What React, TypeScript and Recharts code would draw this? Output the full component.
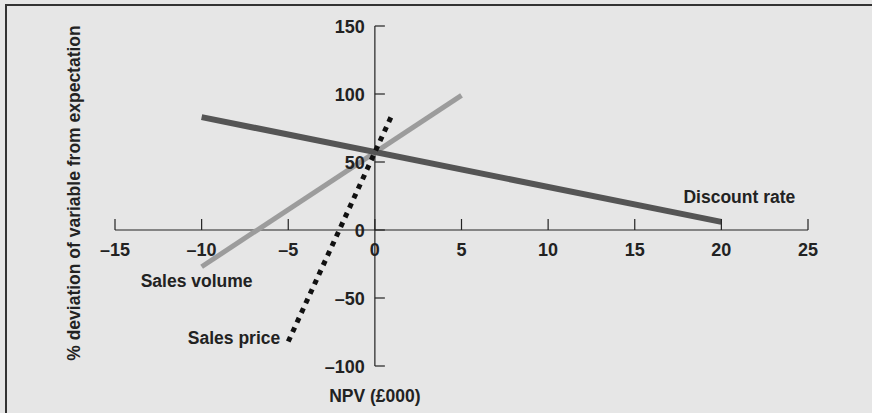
import { LineChart, Line, XAxis, YAxis, ReferenceLine, ReferenceDot } from "recharts";

const discountRate = [
  { x: -10, y: 83 },
  { x: 20, y: 6 },
];
const salesVolume = [
  { x: -10, y: -27 },
  { x: 5, y: 99 },
];
const salesPrice = [
  { x: -5, y: -82 },
  { x: 1, y: 85 },
];

const xTicks = [-15, -10, -5, 0, 5, 10, 15, 20, 25];
const yTicks = [-100, -50, 0, 50, 100, 150];

const FONT = "'Liberation Sans', Arial, sans-serif";
const INK = "#222";

const fmt = (v: number) => (v < 0 ? `\u2013${Math.abs(v)}` : `${v}`);

function XTick(props: any) {
  const { cx, cy, value } = props;
  return (
    <g>
      <line x1={cx} y1={cy} x2={cx} y2={cy - 11} stroke={INK} strokeWidth={1.2} />
      <text x={cx} y={cy + 26} textAnchor="middle" fontFamily={FONT} fontWeight="bold" fontSize={18} fill={INK}>
        {fmt(value)}
      </text>
    </g>
  );
}

function YTick(props: any) {
  const { cx, cy, value } = props;
  return (
    <g>
      <line x1={cx} y1={cy} x2={cx + 10} y2={cy} stroke={INK} strokeWidth={1.2} />
      <text x={cx - 10} y={cy + 7} textAnchor="end" fontFamily={FONT} fontWeight="bold" fontSize={18} fill={INK}>
        {fmt(value)}
      </text>
    </g>
  );
}

function SeriesLabel({ cx, cy, text, dx, dy, anchor }: any) {
  return (
    <text x={cx + dx} y={cy + dy} textAnchor={anchor} fontFamily={FONT} fontWeight="bold" fontSize={17.5} fill={INK}>
      {text}
    </text>
  );
}

export default function App() {
  return (
    <div
      style={{
        position: "absolute",
        left: 0,
        top: 0,
        width: 872,
        height: 413,
        background: "#e6e6e6",
        overflow: "hidden",
      }}
    >
      <div
        style={{
          position: "absolute",
          left: 5,
          top: 4,
          width: 900,
          height: 450,
          borderTop: "2px solid #333",
          borderLeft: "2px solid #333",
        }}
      />
      <div
        style={{
          position: "absolute",
          left: 74,
          top: 193,
          transform: "translate(-50%, -50%) rotate(-90deg)",
          whiteSpace: "nowrap",
          fontFamily: FONT,
          fontWeight: "bold",
          fontSize: 17.5,
          color: INK,
        }}
      >
        % deviation of variable from expectation
      </div>
      <div style={{ position: "absolute", left: 0, top: 0 }}>
        <LineChart width={872} height={413} margin={{ top: 26, left: 115, right: 64, bottom: 47 }}>
          <XAxis type="number" dataKey="x" domain={[-15, 25]} hide allowDataOverflow />
          <YAxis type="number" dataKey="y" domain={[-100, 150]} hide allowDataOverflow />
          <ReferenceLine y={0} stroke={INK} strokeWidth={1.2} />
          <ReferenceLine x={0} stroke={INK} strokeWidth={1.2} />
          {xTicks.map((t) => (
            <ReferenceDot key={`x${t}`} x={t} y={0} r={0} shape={(p: any) => <XTick {...p} value={t} />} />
          ))}
          {yTicks.map((t) => (
            <ReferenceDot key={`y${t}`} x={0} y={t} r={0} shape={(p: any) => <YTick {...p} value={t} />} />
          ))}
          <Line
            data={salesVolume}
            dataKey="y"
            stroke="#9c9c9c"
            strokeWidth={5}
            dot={false}
            isAnimationActive={false}
            strokeLinecap="butt"
          />
          <Line
            data={discountRate}
            dataKey="y"
            stroke="#555555"
            strokeWidth={6}
            dot={false}
            isAnimationActive={false}
            strokeLinecap="butt"
          />
          <Line
            data={salesPrice}
            dataKey="y"
            stroke="#111"
            strokeWidth={5}
            strokeDasharray="5 5.5"
            dot={false}
            isAnimationActive={false}
            strokeLinecap="butt"
          />
          <ReferenceDot
            x={discountRate[1].x}
            y={discountRate[1].y}
            r={0}
            shape={(p: any) => <SeriesLabel {...p} text="Discount rate" dx={18} dy={-19} anchor="middle" />}
          />
          <ReferenceDot
            x={salesVolume[0].x}
            y={salesVolume[0].y}
            r={0}
            shape={(p: any) => <SeriesLabel {...p} text="Sales volume" dx={-5} dy={20} anchor="middle" />}
          />
          <ReferenceDot
            x={salesPrice[0].x}
            y={salesPrice[0].y}
            r={0}
            shape={(p: any) => <SeriesLabel {...p} text="Sales price" dx={-8} dy={2} anchor="end" />}
          />
          <ReferenceDot
            x={0}
            y={-100}
            r={0}
            shape={(p: any) => <SeriesLabel {...p} text="NPV (£000)" dx={0} dy={36} anchor="middle" />}
          />
        </LineChart>
      </div>
    </div>
  );
}
